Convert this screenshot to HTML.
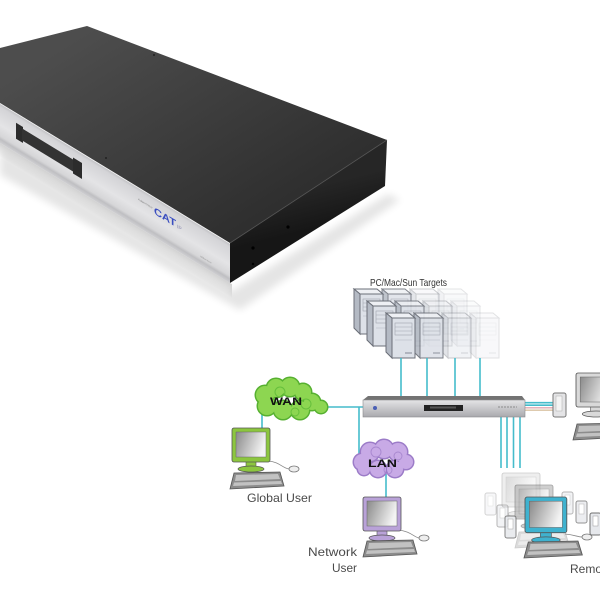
<!DOCTYPE html>
<html><head><meta charset="utf-8"><style>
html,body{margin:0;padding:0;background:#fff;}
svg{display:block;}
</style></head><body>
<svg width="600" height="600" viewBox="0 0 600 600" xmlns="http://www.w3.org/2000/svg" style="overflow:hidden">
<defs>
<linearGradient id="topG" gradientUnits="userSpaceOnUse" x1="90" y1="30" x2="220" y2="240">
<stop offset="0" stop-color="#4d4d4d"/><stop offset="1" stop-color="#2f2f2f"/></linearGradient>
<linearGradient id="sideG" gradientUnits="userSpaceOnUse" x1="300" y1="190" x2="310" y2="230">
<stop offset="0" stop-color="#262626"/><stop offset="1" stop-color="#161616"/></linearGradient>
<linearGradient id="silG" x1="0" y1="0" x2="0" y2="1">
<stop offset="0" stop-color="#bdbdc0"/><stop offset="0.1" stop-color="#d4d4d7"/><stop offset="0.55" stop-color="#e4e4e6"/><stop offset="0.82" stop-color="#d6d6d8"/><stop offset="0.9" stop-color="#bfbfc2"/><stop offset="1" stop-color="#cfcfd2"/></linearGradient>
<linearGradient id="shG" x1="0" y1="0" x2="0" y2="1">
<stop offset="0" stop-color="#000" stop-opacity="0.18"/><stop offset="1" stop-color="#000" stop-opacity="0"/></linearGradient>
<linearGradient id="scr" x1="0" y1="0" x2="1" y2="0.3"><stop offset="0" stop-color="#8a8a8a"/><stop offset="1" stop-color="#f3f3f3"/></linearGradient>
<linearGradient id="swG" x1="0" y1="0" x2="0" y2="1"><stop offset="0" stop-color="#e4e4e6"/><stop offset="1" stop-color="#a9a9ad"/></linearGradient>
<filter id="blur" x="-20%" y="-20%" width="140%" height="140%"><feGaussianBlur stdDeviation="4"/></filter>

<g id="tw">
<polygon points="-6,-5 17,-5 23,0 0,0" fill="#eef0f4" stroke="#6b6f78" stroke-width="1"/>
<polygon points="-6,-5 0,0 0,40 -6,34" fill="#b4bac4" stroke="#6b6f78" stroke-width="1"/>
<rect x="0" y="0" width="23" height="40" fill="#dde1e8" stroke="#6b6f78" stroke-width="1"/>
<rect x="3" y="5" width="17" height="12" fill="none" stroke="#a0a4ae" stroke-width="0.6"/>
<line x1="3" y1="9" x2="20" y2="9" stroke="#a0a4ae" stroke-width="0.6"/>
<line x1="3" y1="13" x2="20" y2="13" stroke="#a0a4ae" stroke-width="0.6"/>
<line x1="3" y1="22" x2="20" y2="22" stroke="#b0b4be" stroke-width="0.5"/>
<rect x="13" y="34" width="7" height="2" fill="#b0b4be"/>
</g>

<g id="mon">
<rect x="14" y="33" width="10" height="6" fill="currentColor" stroke="#555" stroke-width="0.6"/>
<ellipse cx="19" cy="41" rx="13" ry="3" fill="currentColor" stroke="#555" stroke-width="0.7"/>
<rect x="0" y="0" width="38" height="34" rx="2" fill="currentColor" stroke="#555" stroke-width="0.8"/>
<rect x="4" y="4" width="30" height="25" fill="url(#scr)" stroke="#666" stroke-width="0.5"/>
</g>

<g id="kb">
<polygon points="4,0 50,-1 54,13 0,16" fill="#8c8c8c" stroke="#555" stroke-width="0.8"/>
<polygon points="6,2 48,1 50,6 5,8" fill="#c2c2c2"/>
<polygon points="4,9.5 51,8 52,11 3,13" fill="#c2c2c2"/>
</g>

<g id="pc">
<rect x="0" y="0" width="11" height="22" rx="2" fill="#e6e8ec" stroke="#707070" stroke-width="1"/>
<rect x="3" y="3" width="5" height="10" fill="#fff" stroke="#999" stroke-width="0.5"/>
</g>
</defs>

<!-- ===== Big KVM box ===== -->
<polygon points="0,150 230,292 388,194 400,200 240,310 0,175" fill="#000" opacity="0.10" filter="url(#blur)"/>
<polygon points="0,48 87,26 387,140 230,243 0,103" fill="url(#topG)"/>
<polygon points="230,243 387,140 385,186 230,283" fill="url(#sideG)"/>
<line x1="230" y1="243" x2="387" y2="140" stroke="#555" stroke-width="0.8"/>
<circle cx="253" cy="248" r="1.6" fill="#000"/>
<circle cx="288" cy="227" r="1.6" fill="#000"/>
<circle cx="253" cy="264" r="1.2" fill="#000"/>
<circle cx="154" cy="55" r="1" fill="#222"/>
<circle cx="106" cy="158" r="1" fill="#222"/>
<g transform="matrix(1,0.609,0,1,0,0)">
<rect x="0" y="143" width="232" height="14" fill="url(#shG)"/>
<rect x="0" y="103" width="230" height="40" fill="url(#silG)"/>
<line x1="0" y1="103.5" x2="230" y2="103.5" stroke="#f4f4f4" stroke-width="0.8"/>
<rect x="16" y="113" width="7" height="16" fill="#2c2c2c"/>
<rect x="22" y="115" width="52" height="12" fill="#333"/>
<rect x="73" y="113" width="9" height="16" fill="#2c2c2c"/>
<text x="138" y="116" font-family="Liberation Sans, sans-serif" font-size="3" fill="#888">AdderView</text>
<text x="154" y="120" font-family="Liberation Sans, sans-serif" font-size="10" font-weight="bold" fill="#3a4ec0" textLength="22" lengthAdjust="spacingAndGlyphs">CAT</text>
<text x="177" y="120" font-family="Liberation Sans, sans-serif" font-size="5" fill="#8a8ab0">IP</text>
<text x="200" y="135" font-family="Liberation Sans, sans-serif" font-size="2.5" fill="#999">adderview</text>
</g>

<!-- ===== Diagram ===== -->
<text x="370" y="286" font-family="Liberation Sans, sans-serif" font-size="10.5" fill="#333" textLength="77" lengthAdjust="spacingAndGlyphs">PC/Mac/Sun Targets</text>

<!-- servers: back row -->
<g>
<use href="#tw" transform="translate(444,294)" opacity="0.18"/>
<use href="#tw" transform="translate(416,294)" opacity="0.35"/>
<use href="#tw" transform="translate(388,294)" opacity="0.85"/>
<use href="#tw" transform="translate(360,294)"/>
<!-- middle row -->
<use href="#tw" transform="translate(457,306)" opacity="0.18"/>
<use href="#tw" transform="translate(429,306)" opacity="0.35"/>
<use href="#tw" transform="translate(401,306)" opacity="0.85"/>
<use href="#tw" transform="translate(373,306)"/>
<!-- front row -->
<use href="#tw" transform="translate(476,318)" opacity="0.2"/>
<use href="#tw" transform="translate(448,318)" opacity="0.38"/>
<use href="#tw" transform="translate(420,318)" opacity="0.9"/>
<use href="#tw" transform="translate(392,318)"/>
</g>

<!-- cyan connectors -->
<g stroke="#45bccb" stroke-width="1.6" fill="none">
<line x1="401" y1="358" x2="401" y2="397"/>
<line x1="427" y1="358" x2="427" y2="397"/>
<line x1="455" y1="358" x2="455" y2="397"/>
<line x1="480" y1="358" x2="480" y2="397"/>
<line x1="324" y1="407" x2="363" y2="407"/>
<line x1="359" y1="407" x2="359" y2="462"/>
<line x1="262" y1="414" x2="262" y2="430"/>
<line x1="386" y1="474" x2="386" y2="497"/>
<line x1="501" y1="417" x2="501" y2="468"/>
<line x1="507" y1="417" x2="507" y2="468"/>
<line x1="513.5" y1="417" x2="513.5" y2="468"/>
<line x1="520" y1="417" x2="520" y2="468"/>
<line x1="525" y1="402.7" x2="553" y2="402.7"/>
<line x1="525" y1="405.2" x2="553" y2="405.2"/>
</g>
<line x1="525" y1="407.8" x2="553" y2="407.8" stroke="#e0a8b0" stroke-width="1.4"/>
<line x1="525" y1="410.2" x2="553" y2="410.2" stroke="#d9c3a2" stroke-width="1.4"/>

<!-- switch -->
<polygon points="368,396 522,396 525,400 363,400" fill="#737373"/>
<rect x="363" y="400" width="162" height="17" fill="url(#swG)" stroke="#8a8a8e" stroke-width="0.6"/>
<rect x="424" y="405" width="39" height="6" fill="#222"/>
<rect x="430" y="406.5" width="26" height="2" fill="#555"/>
<circle cx="375" cy="408" r="2" fill="#4a5fb5"/>
<line x1="498" y1="407" x2="517" y2="407" stroke="#777" stroke-width="0.8" stroke-dasharray="2,1"/>

<!-- side device + right monitor -->
<rect x="553" y="393" width="13" height="24" rx="2" fill="#e4e4e6" stroke="#777" stroke-width="1"/>
<rect x="556" y="396" width="6" height="15" fill="#f4f4f4" stroke="#aaa" stroke-width="0.5"/>
<use href="#mon" transform="translate(576,373) scale(1.05,1.0)" color="#d9d9d9"/>
<use href="#kb" transform="translate(573,424)"/>

<!-- WAN cloud -->
<g fill="#56b030">
<circle cx="265" cy="395" r="10.5"/><circle cx="276" cy="388" r="10.5"/><circle cx="290" cy="387" r="10.5"/>
<circle cx="303" cy="392" r="9.5"/><circle cx="312" cy="402" r="9.5"/><circle cx="321" cy="407" r="7.5"/>
<circle cx="300" cy="410" r="10.5"/><circle cx="283" cy="410" r="10.5"/><circle cx="267" cy="406" r="10.5"/>
</g>
<g fill="#8dd651">
<circle cx="265" cy="395" r="9"/><circle cx="276" cy="388" r="9"/><circle cx="290" cy="387" r="9"/>
<circle cx="303" cy="392" r="8"/><circle cx="312" cy="402" r="8"/><circle cx="321" cy="407" r="6"/>
<circle cx="300" cy="410" r="9"/><circle cx="283" cy="410" r="9"/><circle cx="267" cy="406" r="9"/>
</g>
<g fill="none" stroke="#66bf3c" stroke-width="1">
<circle cx="306" cy="404" r="5"/><circle cx="280" cy="392" r="5"/><circle cx="295" cy="412" r="4"/>
</g>
<text x="270" y="405" font-family="Liberation Sans, sans-serif" font-size="11" font-weight="bold" fill="#111" textLength="32" lengthAdjust="spacingAndGlyphs">WAN</text>

<!-- LAN cloud -->
<g fill="#9c7cc8">
<circle cx="362" cy="462" r="9.5"/><circle cx="370" cy="452" r="10.5"/><circle cx="384" cy="449" r="10.5"/>
<circle cx="398" cy="452" r="10.5"/><circle cx="406" cy="462" r="8.5"/><circle cx="395" cy="469" r="9.5"/>
<circle cx="378" cy="469" r="9.5"/><circle cx="364" cy="469" r="7.5"/>
</g>
<g fill="#c8aae6">
<circle cx="362" cy="462" r="8"/><circle cx="370" cy="452" r="9"/><circle cx="384" cy="449" r="9"/>
<circle cx="398" cy="452" r="9"/><circle cx="406" cy="462" r="7"/><circle cx="395" cy="469" r="8"/>
<circle cx="378" cy="469" r="8"/><circle cx="364" cy="469" r="6"/>
</g>
<g fill="none" stroke="#a888cf" stroke-width="0.9">
<circle cx="376" cy="452" r="5"/><circle cx="398" cy="456" r="4"/><circle cx="388" cy="470" r="4"/>
</g>
<text x="368" y="467" font-family="Liberation Sans, sans-serif" font-size="11" font-weight="bold" fill="#111" textLength="29" lengthAdjust="spacingAndGlyphs">LAN</text>

<!-- Global user -->
<path d="M268,461 C280,462 282,468 289,469" stroke="#888" stroke-width="0.8" fill="none"/>
<use href="#mon" transform="translate(232,428)" color="#8cc63f"/>
<use href="#kb" transform="translate(230,473)"/>
<ellipse cx="294" cy="469" rx="5" ry="3" fill="#eee" stroke="#777" stroke-width="0.8"/>
<text x="247" y="502" font-family="Liberation Sans, sans-serif" font-size="12" fill="#4a4a4a" textLength="65" lengthAdjust="spacingAndGlyphs">Global User</text>

<!-- Network user -->
<path d="M398,530 C410,531 414,537 419,538" stroke="#888" stroke-width="0.8" fill="none"/>
<use href="#mon" transform="translate(363,497)" color="#b9a2d8"/>
<use href="#kb" transform="translate(363,541)"/>
<ellipse cx="424" cy="538" rx="5" ry="3" fill="#eee" stroke="#777" stroke-width="0.8"/>
<text x="308" y="556" font-family="Liberation Sans, sans-serif" font-size="12" fill="#4a4a4a" textLength="49" lengthAdjust="spacingAndGlyphs">Network</text>
<text x="332" y="572" font-family="Liberation Sans, sans-serif" font-size="12" fill="#4a4a4a" textLength="25" lengthAdjust="spacingAndGlyphs">User</text>

<!-- Remote users -->
<use href="#pc" transform="translate(485,493)" opacity="0.3"/>
<use href="#pc" transform="translate(497,505)" opacity="0.5"/>
<use href="#mon" transform="translate(502,473)" color="#c8c8c8" opacity="0.3"/>
<use href="#mon" transform="translate(515,485)" color="#a8a8a8" opacity="0.55"/>
<use href="#pc" transform="translate(562,492)" opacity="0.5"/>
<use href="#pc" transform="translate(576,501)" opacity="0.75"/>
<use href="#pc" transform="translate(590,513)"/>
<use href="#pc" transform="translate(505,516)" opacity="0.85"/>
<use href="#kb" transform="translate(515,532)" opacity="0.3"/>
<path d="M565,534 C575,535 578,537 582,537" stroke="#888" stroke-width="0.8" fill="none"/>
<use href="#mon" transform="translate(525,497) scale(1.1,1.05)" color="#3fb2cf"/>
<use href="#kb" transform="translate(524,542) scale(1.08,1)"/>
<ellipse cx="587" cy="537" rx="5" ry="3" fill="#eee" stroke="#777" stroke-width="0.8"/>
<text x="570" y="573" font-family="Liberation Sans, sans-serif" font-size="12" fill="#4a4a4a">Remote Users</text>
</svg>
</body></html>
